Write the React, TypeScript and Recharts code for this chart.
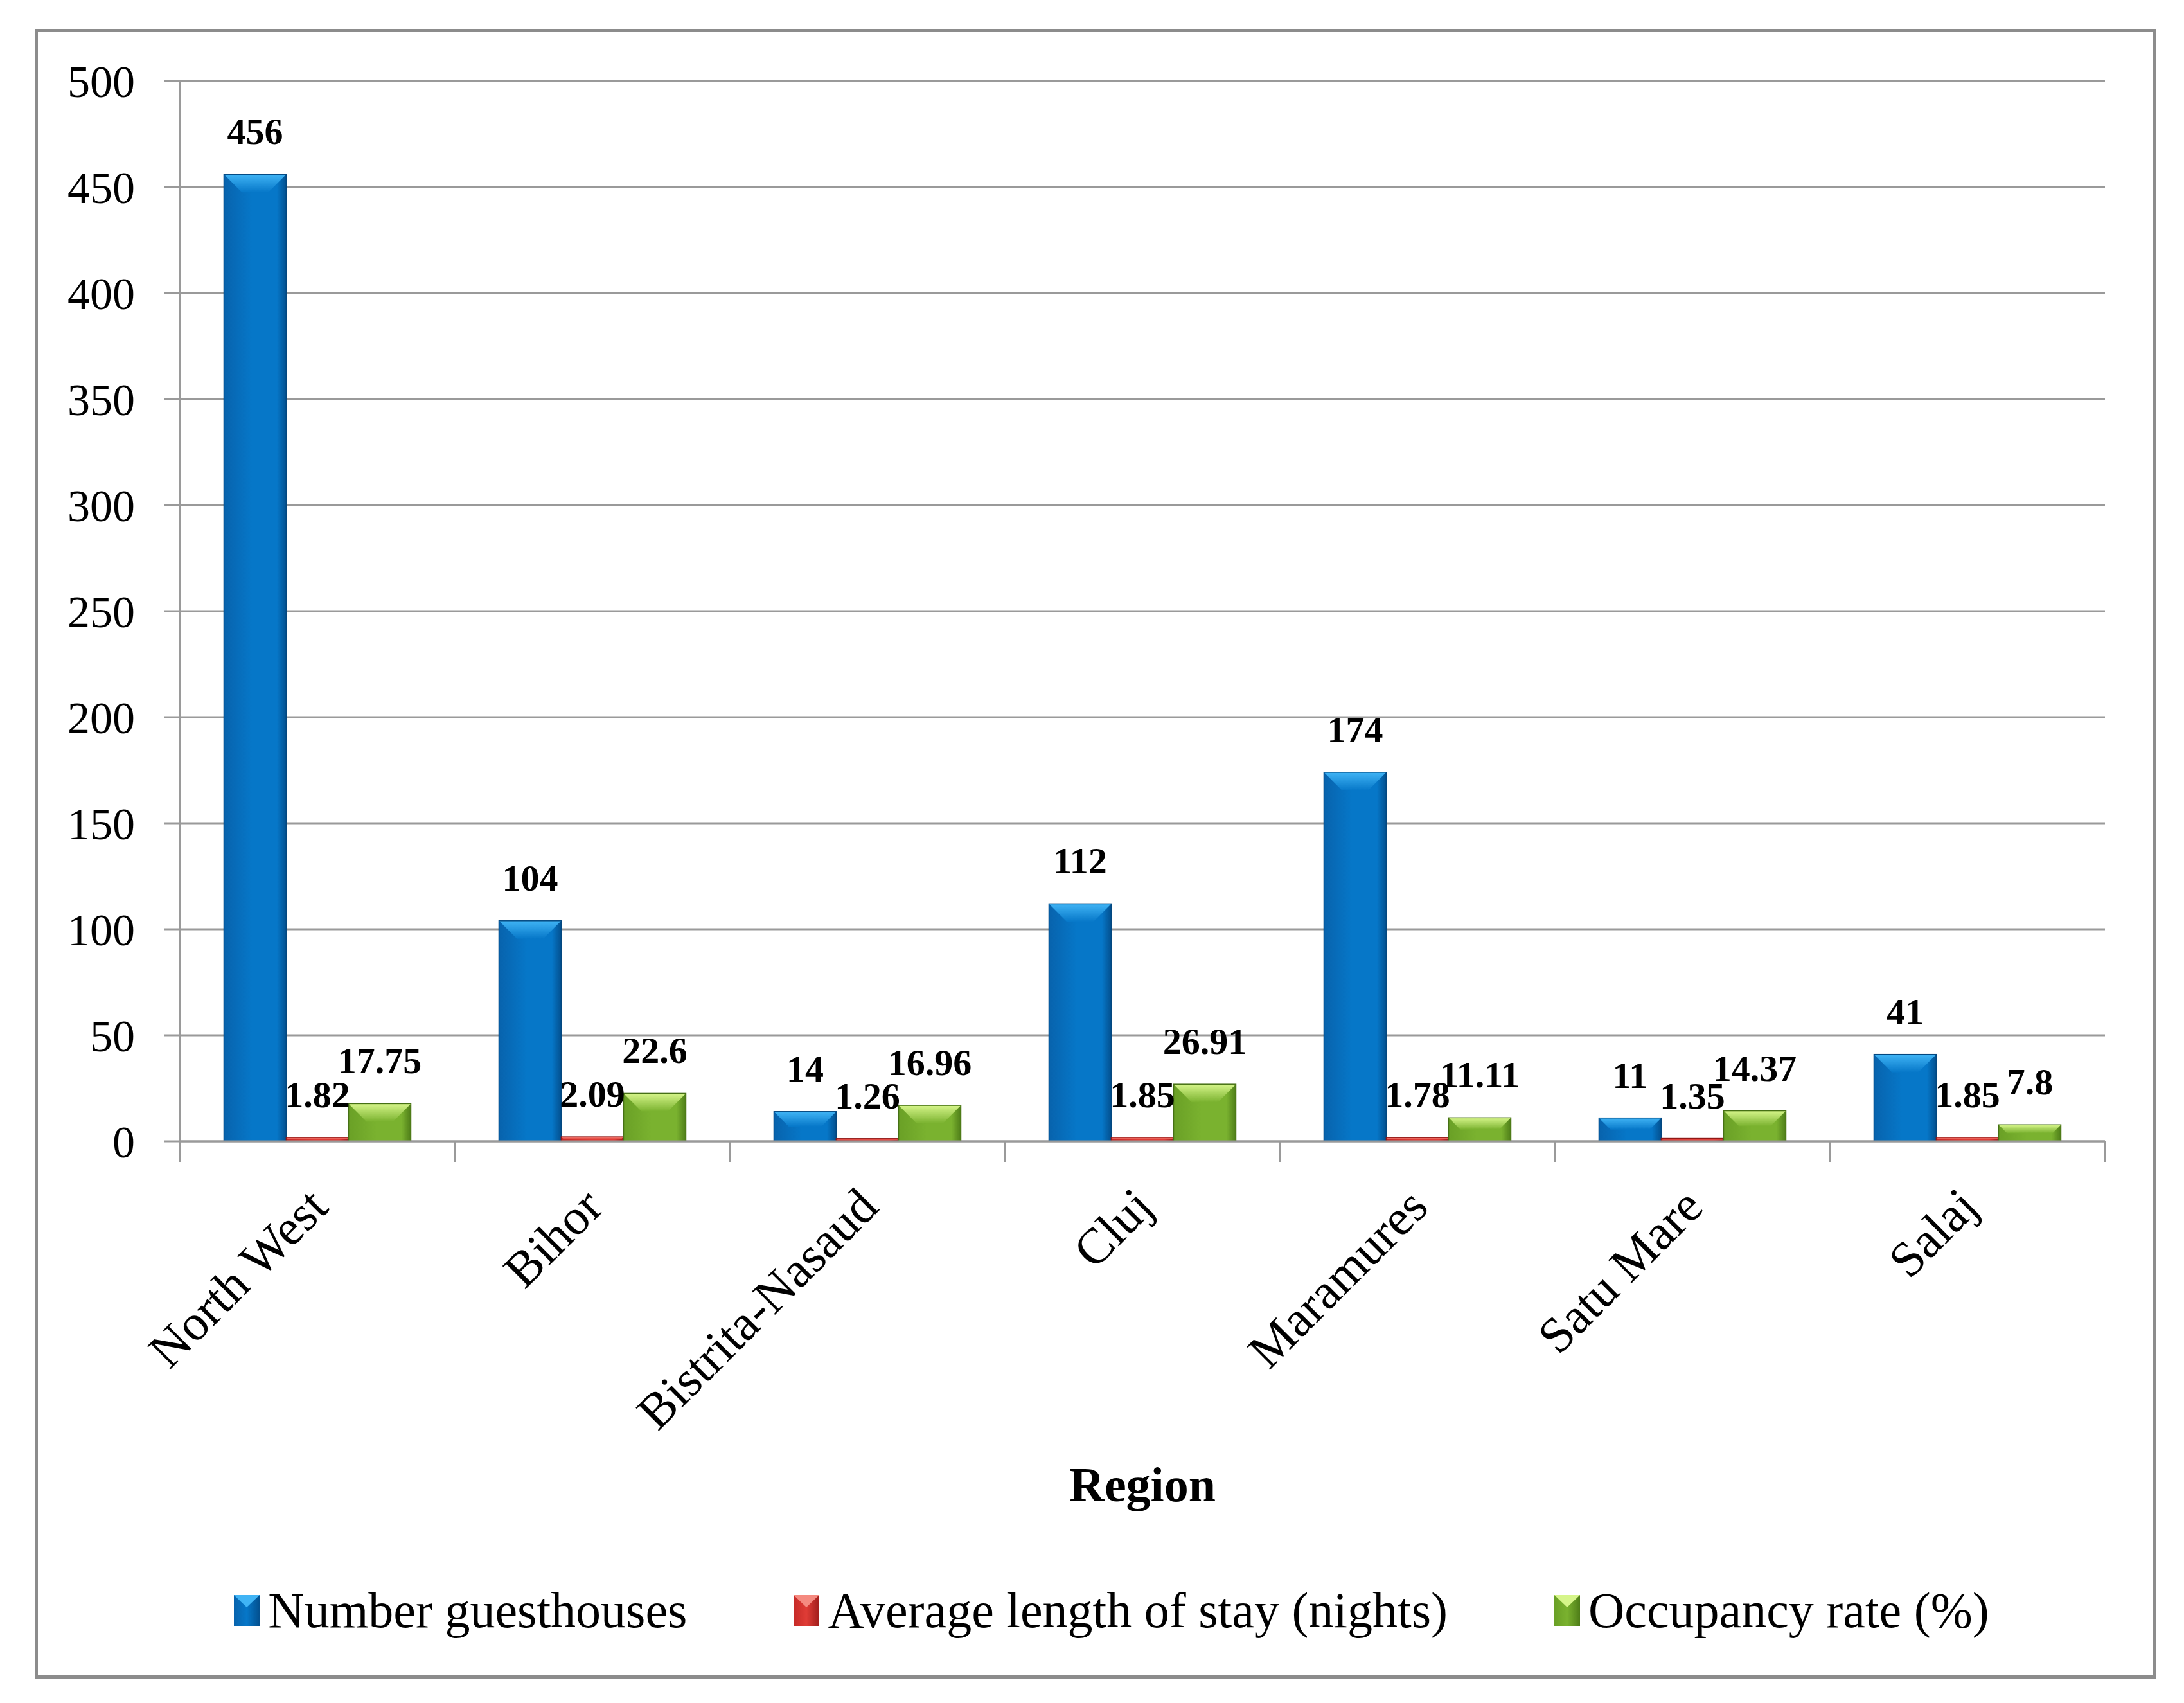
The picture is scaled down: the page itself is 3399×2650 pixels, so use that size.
import React from "react";
import { BarChart, Bar, XAxis, YAxis, CartesianGrid, LabelList, Legend } from "recharts";

const regions = ["North West", "Bihor", "Bistrita-Nasaud", "Cluj", "Maramures", "Satu Mare", "Salaj"];
const guesthouses = [456, 104, 14, 112, 174, 11, 41];
const stayNights = [1.82, 2.09, 1.26, 1.85, 1.78, 1.35, 1.85];
const occupancy = [17.75, 22.6, 16.96, 26.91, 11.11, 14.37, 7.8];
const yTicks = [0, 50, 100, 150, 200, 250, 300, 350, 400, 450, 500];

const data = regions.map((region, i) => ({
  region,
  guesthouses: guesthouses[i],
  stay: stayNights[i],
  occupancy: occupancy[i],
}));

type Palette = { id: string; left: string; mid: string; right: string; light: string; edge: string };

const series: { key: string; name: string; pal: Palette }[] = [
  {
    key: "guesthouses",
    name: "Number guesthouses",
    pal: { id: "gBlue", left: "#0863ad", mid: "#0677c8", right: "#03508f", light: "#40b4f5", edge: "#03477f" },
  },
  {
    key: "stay",
    name: "Average length of stay (nights)",
    pal: { id: "gRed", left: "#c52a27", mid: "#e03c36", right: "#a01d1b", light: "#f58a80", edge: "#8f1816" },
  },
  {
    key: "occupancy",
    name: "Occupancy rate (%)",
    pal: { id: "gGreen", left: "#6aa026", mid: "#7ab22f", right: "#4e7d18", light: "#d6f58a", edge: "#467015" },
  },
];

const SERIF = "'Liberation Serif', 'Times New Roman', serif";
const GRID = "#9a9a9a";

function bevelShape(p: Palette) {
  return (props: any) => {
    const { x, y, width, height } = props;
    if (!height || height <= 0) return <g />;
    const b = Math.min(28, height / 2, width / 2);
    return (
      <g>
        <rect x={x} y={y} width={width} height={height} fill={`url(#${p.id})`} />
        <polygon
          points={`${x},${y} ${x + width},${y} ${x + width - b},${y + b} ${x + b},${y + b}`}
          fill={`url(#${p.id}Top)`}
        />
        <rect x={x} y={y} width={width} height={height} fill="none" stroke={p.edge} strokeWidth={1.5} />
      </g>
    );
  };
}

// category label plus the Excel-style tick marks at the band edges
const CategoryTick = (props: any) => {
  const { x, y, payload, index, width, visibleTicksCount } = props;
  const band = Number(width) / Number(visibleTicksCount || regions.length);
  const ax = x + 20;
  const ay = y + 106;
  return (
    <g>
      <line x1={x - band / 2} y1={y} x2={x - band / 2} y2={y + 32} stroke={GRID} strokeWidth={3} />
      {index === visibleTicksCount - 1 && (
        <line x1={x + band / 2} y1={y} x2={x + band / 2} y2={y + 32} stroke={GRID} strokeWidth={3} />
      )}
      <text
        x={ax}
        y={ay}
        transform={`rotate(-45, ${ax}, ${ay})`}
        textAnchor="end"
        fontSize={78}
        fontFamily={SERIF}
        fill="#000"
      >
        {payload.value}
      </text>
    </g>
  );
};

const renderLegend = () => (
  <div
    style={{
      display: "flex",
      justifyContent: "center",
      alignItems: "center",
      gap: 165,
      fontFamily: SERIF,
      fontSize: 78,
      color: "#000",
      height: 110,
    }}
  >
    {series.map((s) => (
      <div key={s.key} style={{ display: "flex", alignItems: "center" }}>
        <svg width={42} height={50}>
          <defs>
            <linearGradient id={`${s.pal.id}Leg`} x1="0" y1="0" x2="1" y2="0">
              <stop offset="0%" stopColor={s.pal.left} />
              <stop offset="50%" stopColor={s.pal.mid} />
              <stop offset="100%" stopColor={s.pal.right} />
            </linearGradient>
          </defs>
          <rect x={1} y={1} width={40} height={48} fill={`url(#${s.pal.id}Leg)`} />
          <polygon points="1,1 41,1 21,20" fill={s.pal.light} />
        </svg>
        <span style={{ marginLeft: 12 }}>{s.name}</span>
      </div>
    ))}
  </div>
);

export default function App() {
  return (
    <div style={{ position: "absolute", left: 0, top: 0, width: 3399, height: 2650, background: "#fff" }}>
      <div
        style={{
          position: "absolute",
          left: 54,
          top: 45,
          width: 3301,
          height: 2567,
          border: "5px solid #8c8c8c",
          boxSizing: "border-box",
        }}
      />
      <div style={{ position: "absolute", left: 0, top: 0 }}>
        <BarChart
          width={3399}
          height={2650}
          data={data}
          margin={{ top: 126, right: 123, left: 100, bottom: 763 }}
          barCategoryGap="16%"
          barGap={0}
        >
          <defs>
            {series.map((s) => (
              <React.Fragment key={s.key}>
                <linearGradient id={s.pal.id} x1="0" y1="0" x2="1" y2="0">
                  <stop offset="0%" stopColor={s.pal.left} />
                  <stop offset="45%" stopColor={s.pal.mid} />
                  <stop offset="85%" stopColor={s.pal.mid} />
                  <stop offset="100%" stopColor={s.pal.right} />
                </linearGradient>
                <linearGradient id={`${s.pal.id}Top`} x1="0" y1="0" x2="0" y2="1">
                  <stop offset="0%" stopColor={s.pal.light} />
                  <stop offset="100%" stopColor={s.pal.mid} />
                </linearGradient>
              </React.Fragment>
            ))}
          </defs>
          <CartesianGrid vertical={false} stroke={GRID} strokeWidth={3} />
          <XAxis
            dataKey="region"
            height={1}
            interval={0}
            tickLine={false}
            tickSize={0}
            tickMargin={0}
            axisLine={{ stroke: GRID, strokeWidth: 3 }}
            tick={<CategoryTick />}
            label={{
              value: "Region",
              position: "bottom",
              offset: 505,
              fill: "#000",
              fontSize: 76,
              fontWeight: "bold",
              fontFamily: SERIF,
            }}
          />
          <YAxis
            domain={[0, 500]}
            ticks={yTicks}
            interval={0}
            width={180}
            tickSize={25}
            tickMargin={45}
            axisLine={{ stroke: GRID, strokeWidth: 3 }}
            tickLine={{ stroke: GRID, strokeWidth: 3 }}
            tick={{ fill: "#000", fontSize: 70, fontFamily: SERIF }}
          />
          <Legend
            verticalAlign="bottom"
            height={110}
            content={renderLegend}
            wrapperStyle={{ bottom: 89, left: 30, width: 3399 }}
          />
          {series.map((s) => (
            <Bar
              key={s.key}
              dataKey={s.key}
              name={s.name}
              fill={s.pal.mid}
              shape={bevelShape(s.pal)}
              isAnimationActive={false}
            >
              <LabelList
                dataKey={s.key}
                position="top"
                offset={47}
                fill="#000"
                fontSize={58}
                fontWeight="bold"
                fontFamily={SERIF}
              />
            </Bar>
          ))}
        </BarChart>
      </div>
    </div>
  );
}
